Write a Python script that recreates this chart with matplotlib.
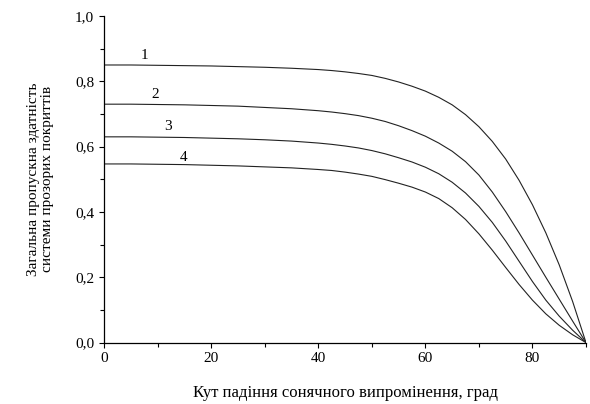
import matplotlib
matplotlib.use('Agg')
import matplotlib.pyplot as plt
from matplotlib.ticker import MultipleLocator, FuncFormatter

plt.rcParams['font.family'] = ['Liberation Serif', 'DejaVu Serif']

# angle of incidence, degrees
angles = [0, 5, 10, 15, 20, 25, 30, 35, 40, 42.5, 45, 47.5, 50, 52.5, 55, 57.5,
          60, 62.5, 65, 67.5, 70, 72.5, 75, 77.5, 80, 82.5, 85, 87.5, 90]

# total transmittance of the coating systems
curve_1 = [0.850, 0.850, 0.849, 0.848, 0.847, 0.845, 0.843, 0.840, 0.836, 0.833,
           0.829, 0.824, 0.818, 0.809, 0.798, 0.785, 0.770, 0.751, 0.728, 0.698,
           0.661, 0.616, 0.562, 0.497, 0.422, 0.336, 0.238, 0.126, 0.0]
curve_2 = [0.730, 0.730, 0.729, 0.728, 0.726, 0.724, 0.720, 0.716, 0.710, 0.706,
           0.701, 0.695, 0.687, 0.677, 0.664, 0.649, 0.632, 0.611, 0.586, 0.554,
           0.513, 0.461, 0.401, 0.336, 0.268, 0.200, 0.133, 0.066, 0.0]
curve_3 = [0.630, 0.630, 0.629, 0.628, 0.626, 0.624, 0.621, 0.617, 0.611, 0.607,
           0.602, 0.596, 0.588, 0.578, 0.566, 0.553, 0.537, 0.517, 0.491, 0.458,
           0.417, 0.368, 0.311, 0.249, 0.187, 0.130, 0.081, 0.038, 0.0]
curve_4 = [0.547, 0.547, 0.546, 0.545, 0.543, 0.541, 0.538, 0.535, 0.530, 0.527,
           0.522, 0.516, 0.509, 0.499, 0.488, 0.476, 0.461, 0.441, 0.413, 0.377,
           0.333, 0.283, 0.230, 0.178, 0.130, 0.088, 0.053, 0.024, 0.0]

curve_names = ['1', '2', '3', '4']
# where the curve numbers sit (angle, value)
label_x = [7.6, 9.5, 11.9, 14.8]
label_y = [0.880, 0.760, 0.663, 0.567]

fig = plt.figure(figsize=(5.9, 4.04), dpi=100)
ax = fig.add_axes([0.1765, 0.152, 0.8167, 0.8084])

for ys in (curve_1, curve_2, curve_3, curve_4):
    ax.plot(angles, ys, color='#222222', lw=0.8)

for name, lx, ly in zip(curve_names, label_x, label_y):
    ax.text(lx, ly, name, fontsize=11, ha='center', va='center')

ax.set_xlim(0, 90)
ax.set_ylim(0, 1.0)
ax.xaxis.set_major_locator(MultipleLocator(20))
ax.xaxis.set_minor_locator(MultipleLocator(10))
ax.yaxis.set_major_locator(MultipleLocator(0.2))
ax.yaxis.set_minor_locator(MultipleLocator(0.1))
ax.yaxis.set_major_formatter(FuncFormatter(lambda v, p: f'{v:.1f}'.replace('.', ',')))

for side in ('top', 'right'):
    ax.spines[side].set_visible(False)
for side in ('left', 'bottom'):
    ax.spines[side].set_linewidth(0.9)

ax.tick_params(which='major', direction='out', length=3.6, width=0.8, labelsize=11)
ax.tick_params(which='minor', direction='out', length=2.9, width=0.8)

ax.set_xlabel('Кут падіння сонячного випромінення, град', fontsize=12)
ax.xaxis.set_label_coords(0.5, -0.13)
ax.set_ylabel('Загальна пропускна здатність\nсистеми прозорих покриттів', fontsize=11,
              linespacing=1.05)
ax.yaxis.set_label_coords(-0.105, 0.5)

fig.savefig('out.png', dpi=100)
